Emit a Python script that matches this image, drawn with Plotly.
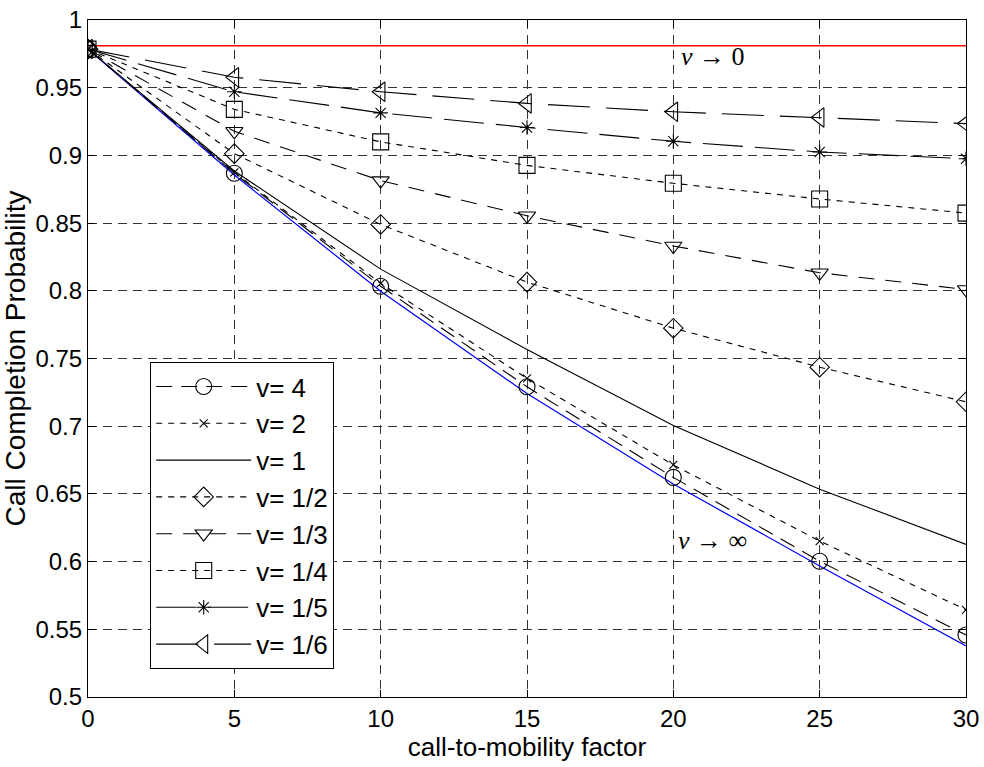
import plotly.graph_objects as go

x = [0, 5, 10, 15, 20, 25, 30]

v4 = [0.9785, 0.8868, 0.8034, 0.7291, 0.6622, 0.6003, 0.5458]
v2 = [0.9785, 0.8875, 0.8055, 0.7353, 0.6714, 0.6152, 0.5644]
v1 = [0.9785, 0.8885, 0.8160, 0.7567, 0.7006, 0.6535, 0.6127]
v1_2 = [0.9785, 0.9013, 0.8490, 0.8064, 0.7724, 0.7436, 0.7180]
v1_3 = [0.9785, 0.9178, 0.8814, 0.8554, 0.8331, 0.8133, 0.8010]
v1_4 = [0.9785, 0.9340, 0.9100, 0.8926, 0.8794, 0.8678, 0.8574]
v1_5 = [0.9785, 0.9470, 0.9314, 0.9206, 0.9104, 0.9025, 0.8975]
v1_6 = [0.9785, 0.9577, 0.9470, 0.9384, 0.9322, 0.9280, 0.9235]
v_inf = [0.9785, 0.8855, 0.7997, 0.7241, 0.6573, 0.5968, 0.5377]
v_zero = [0.981, 0.981, 0.981, 0.981, 0.981, 0.981, 0.981]

names = ["v= 4", "v= 2", "v= 1", "v= 1/2", "v= 1/3", "v= 1/4", "v= 1/5", "v= 1/6"]
series = [v4, v2, v1, v1_2, v1_3, v1_4, v1_5, v1_6]
symbols = ["circle-open", "x-thin-open", None, "diamond-open", "triangle-down-open",
           "square-open", "asterisk-open", "triangle-left-open"]
sizes = [16, 8, 0, 15, 15, 16, 12, 17]
dashes = ["16px,9px", "6px,6px", "solid", "6px,6px", "16px,11px", "6px,6px", "40px,12px", "42px,16px"]

yticks = [0.5, 0.55, 0.6, 0.65, 0.7, 0.75, 0.8, 0.85, 0.9, 0.95, 1.0]
yticktext = ["0.5", "0.55", "0.6", "0.65", "0.7", "0.75", "0.8", "0.85", "0.9", "0.95", "1"]
xticks = [0, 5, 10, 15, 20, 25, 30]

FONT = "Liberation Sans, Arial"

fig = go.Figure()

fig.add_trace(go.Scatter(x=x, y=v_zero, mode="lines", line=dict(color="#ff0000", width=1.3),
                         showlegend=False, hoverinfo="skip"))
fig.add_trace(go.Scatter(x=x, y=v_inf, mode="lines", line=dict(color="#0000ff", width=1.2),
                         showlegend=False, hoverinfo="skip"))

for name, ys, sym, sz, dsh in zip(names, series, symbols, sizes, dashes):
    if sym is None:
        fig.add_trace(go.Scatter(x=x, y=ys, mode="lines", name=name,
                                 line=dict(color="black", width=1.1, dash=dsh)))
    else:
        fig.add_trace(go.Scatter(x=x, y=ys, mode="lines+markers", name=name,
                                 line=dict(color="black", width=1.1, dash=dsh),
                                 marker=dict(symbol=sym, size=sz, color="black",
                                             line=dict(color="black", width=1.1))))

fig.add_annotation(x=20.2, y=0.9727, text="<i>ν</i> → 0", showarrow=False,
                   xanchor="left", yanchor="middle",
                   font=dict(family="Liberation Serif", size=26, color="black"))
fig.add_annotation(x=20.1, y=0.6154, text="<i>ν</i> → ∞", showarrow=False,
                   xanchor="left", yanchor="middle",
                   font=dict(family="Liberation Serif", size=26, color="black"))

axis_common = dict(showline=True, linecolor="black", linewidth=1.2, mirror="ticks",
                   ticks="inside", ticklen=7, tickcolor="black", automargin=False,
                   showgrid=True, gridcolor="#333333", gridwidth=1, griddash="9px,6px",
                   zeroline=False,
                   tickfont=dict(family=FONT, size=24, color="black"))

fig.update_xaxes(range=[0, 30], tickvals=xticks,
                 title=dict(text="call-to-mobility factor",
                            font=dict(family=FONT, size=26, color="black"),
                            standoff=4),
                 **axis_common)
fig.update_yaxes(range=[0.5, 1.0], tickvals=yticks, ticktext=yticktext,
                 title=dict(text="Call Completion Probability",
                            font=dict(family=FONT, size=28, color="black"),
                            standoff=2),
                 **axis_common)

fig.update_layout(
    width=984, height=767,
    margin=dict(l=88, r=18, t=20, b=70),
    paper_bgcolor="white", plot_bgcolor="white",
    legend=dict(x=0.0706, y=0.495, xanchor="left", yanchor="top",
                bgcolor="white", bordercolor="black", borderwidth=1.2,
                font=dict(family=FONT, size=26, color="black"),
                itemwidth=95, tracegroupgap=0),
    showlegend=True,
)

fig.write_html("out.html")
